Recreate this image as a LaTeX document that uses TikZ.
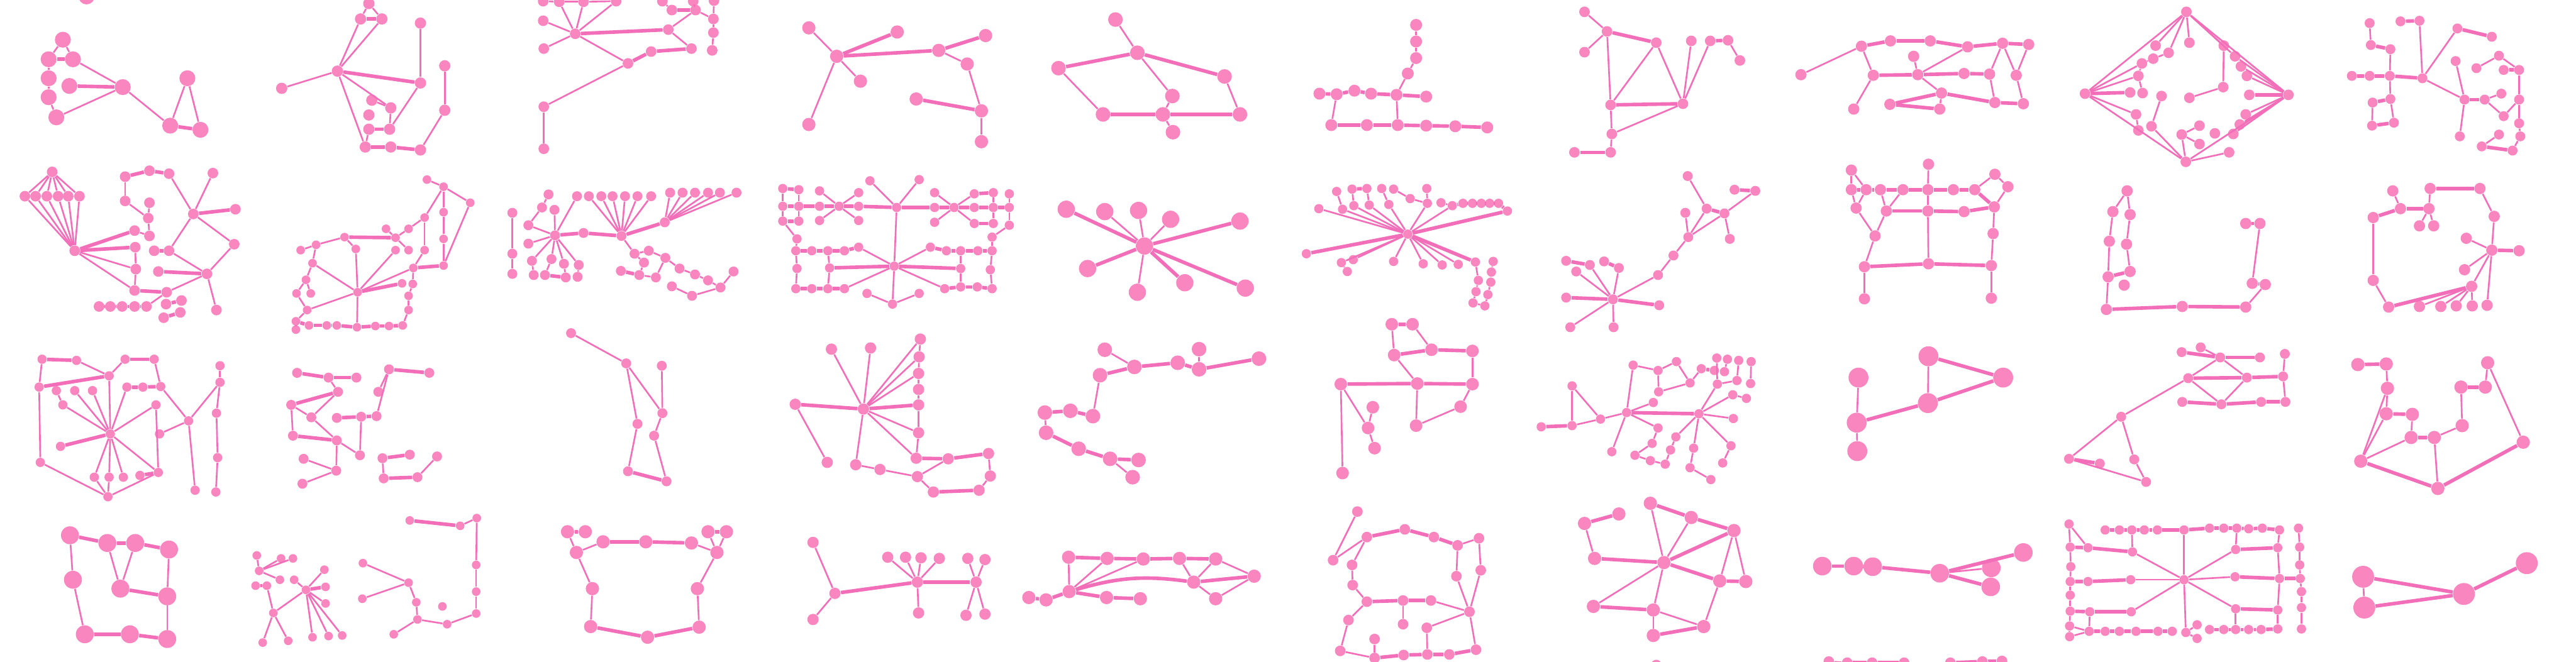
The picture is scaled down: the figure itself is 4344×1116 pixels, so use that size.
\documentclass[tikz,border=0pt]{standalone}
\definecolor{pnode}{RGB}{250,134,192}
\definecolor{pline}{RGB}{242,110,184}
\tikzset{nd/.style={circle,fill=pnode,draw=none,inner sep=0pt},
ln/.style={draw=pline,line width=0.8pt},
lt/.style={draw=pline,line width=1.7pt}}
\newcommand\graphG[5]{%
 \foreach \ni/\px/\py in {#3} {\node[nd,minimum size=1.12*#2] (#1\ni) at (\px,\py) {};}
 \foreach \na/\nb in {#4} {\draw[ln] (#1\na) -- (#1\nb);}
 \foreach \na/\nb in {#5} {\draw[lt] (#1\na) -- (#1\nb);}
}
\begin{document}
\begin{tikzpicture}[x=0.01cm,y=-0.01cm]
\fill[white] (0,0) rectangle (4344,1116);
\clip (0,0) rectangle (4344,1116);
% Row 1
\graphG{aa}{0.24cm}{1/106/67,2/82/100,3/123/100,4/82/132,5/117/145,6/82/164,7/95/198,8/207/147,9/316/132,10/287/212,11/338/219,12/146/-6}{1/2,1/3,2/4,4/6,6/7,3/8,7/8,8/10,9/10,9/11}{2/3,5/8,10/11}
\graphG{ab}{0.17cm}{1/569/120,2/475/149,3/622/6,4/608/32,5/644/32,6/709/39,7/709/140,8/750/111,9/750/186,10/627/169,11/659/182,12/622/194,13/622/218,14/657/218,15/616/248,16/659/248,17/709/253}{1/2,3/4,3/5,1/4,1/5,6/7,8/9,1/11,10/11,11/14,1/15,13/15,7/14,9/17}{4/5,1/7,13/14,15/16,16/17}
\graphG{ac}{0.16cm}{1/916/2,2/943/3,3/984/3,4/1039/2,5/1117/2,6/1169/2,7/1204/1,8/916/35,9/970/57,10/917/82,11/1127/50,12/1133/17,13/1173/17,14/1203/32,15/1203/55,16/1201/85,17/1166/82,18/1098/87,19/1059/107,20/917/180,21/917/251}{9/8,9/10,9/2,9/3,9/4,9/19,19/20,20/21,11/17,11/13,13/14,7/14,14/15,15/16,5/12,6/13,1/2,2/3,3/4}{9/11,12/13,17/18,18/19}
\graphG{ad}{0.20cm}{1/1364/47,2/1513/54,3/1411/95,4/1583/85,5/1662/60,6/1631/108,7/1451/137,8/1545/167,9/1655/187,10/1655/239,11/1364/210}{3/1,3/7,3/11,4/6,6/9,9/10}{3/2,3/4,4/5,8/9}
\graphG{ae}{0.22cm}{1/1881/33,2/1918/89,3/1785/115,4/2065/129,5/1977/162,6/1860/193,7/1961/193,8/2091/193,9/1978/223}{1/2,2/5,3/6,4/8,5/7,7/9}{2/3,2/4,6/7,7/8}
\graphG{af}{0.18cm}{1/2388/42,2/2388/70,3/2388/98,4/2374/124,5/2355/160,6/2225/158,7/2254/159,8/2284/153,9/2312/158,10/2405/163,11/2245/211,12/2305/211,13/2357/211,14/2405/212,15/2454/213,16/2508/215}{1/2,2/3,3/4,4/5,7/11,5/13}{6/7,7/8,8/9,9/5,5/10,11/12,12/13,13/14,14/15,15/16}
\graphG{ag}{0.16cm}{1/2672/20,2/2710/53,3/2672/88,4/2793/72,5/2852/69,6/2884/69,7/2914/68,8/2934/102,9/2716/177,10/2838/175,11/2718/226,12/2655/257,13/2716/257}{1/2,2/3,2/9,4/9,4/10,5/10,6/10,7/8,10/11,9/11,11/13}{2/4,6/7,9/10,12/13}
\graphG{ah}{0.17cm}{1/3037/126,2/3139/78,3/3188/69,4/3255/69,5/3318/79,6/3377/73,7/3421/75,8/3227/95,9/3159/127,10/3234/126,11/3312/124,12/3355/125,13/3400/127,14/3274/157,15/3187/176,16/3271/184,17/3364/173,18/3412/175,19/3126/184}{1/2,2/9,9/19,8/10,10/5,6/12,6/13,7/13,10/14,14/16,12/17,13/18}{2/3,3/4,4/5,5/6,6/7,9/10,10/11,11/12,14/15,15/16,14/17,17/18}
\graphG{ai}{0.16cm}{1/3687/20,2/3516/158,3/3859/160,4/3686/273,5/3635/77,6/3692/72,7/3657/89,8/3631/99,9/3612/107,10/3606/128,11/3592/156,12/3613/157,13/3645/162,14/3602/193,15/3606/220,16/3628/213,17/3750/77,18/3749/147,19/3692/165,20/3769/95,21/3779/112,22/3789/128,23/3793/160,24/3787/193,25/3777/210,26/3766/226,27/3759/257,28/3709/212,29/3679/227,30/3709/243,31/3735/225}{1/2,1/3,1/5,1/6,1/7,1/17,1/20,2/4,3/4,2/9,2/10,2/14,7/8,8/9,9/10,10/12,14/15,13/16,16/4,17/18,18/19,3/20,3/21,3/22,3/24,3/25,3/26,27/4,28/29,29/30,29/4}{2/11,3/23}
\graphG{aj}{0.15cm}{1/3996/39,2/3998/76,3/4031/83,4/4048/36,5/4080/35,6/4144/48,7/4202/62,8/3966/128,9/3996/128,10/4030/128,11/4085/132,12/4031/167,13/4001/173,14/4000/212,15/4037/207,16/4141/103,17/4156/168,18/4148/230,19/4214/94,20/4176/115,21/4222/118,22/4248/118,23/4190/168,24/4218/158,25/4248/168,26/4222/196,27/4248/208,28/4250/230,29/4214/227,30/4185/247,31/4237/254}{1/2,3/10,5/11,11/6,11/17,10/12,13/14,12/15,16/17,17/18,23/24,23/26,26/25,25/22,22/19,19/20,25/27,27/28,28/31,30/29}{2/3,8/9,9/10,10/11,4/5,6/7,12/13,14/15,17/23,21/22,31/30}
% Row 2
\graphG{ba}{0.16cm}{1/88/290,2/42/331,3/60/331,4/79/331,5/98/331,6/115/331,7/134/331,8/126/423,9/211/298,10/252/288,11/285/293,12/211/339,13/252/342,14/250/368,15/227/389,16/252/398,17/228/417,18/260/423,19/285/423,20/359/292,21/326/361,22/397/353,23/395/412,24/229/454,25/267/458,26/349/462,27/227/490,28/281/493,29/167/517,30/186/517,31/206/517,32/227/517,33/247/517,34/280/513,35/306/507,36/304/527,37/276/536,38/365/523}{1/2,1/3,1/4,1/5,1/6,1/7,2/8,3/8,4/8,5/8,6/8,7/8,8/24,8/27,9/12,12/14,13/14,14/16,15/16,17/24,24/27,11/21,20/21,21/19,21/23,23/26,19/26,26/28,26/38,28/33}{9/10,10/11,8/15,8/17,18/19,21/22,25/26,27/28,29/30,30/31,31/32,32/33,34/35,36/37}
\graphG{bb}{0.13cm}{1/720/303,2/748/315,3/793/342,4/748/358,5/748/403,6/716/367,7/689/386,8/651/386,9/667/401,10/581/400,11/533/413,12/507/422,13/600/420,14/667/422,15/689/422,16/716/422,17/527/444,18/697/452,19/748/448,20/516/472,21/500/495,22/524/495,23/678/478,24/696/479,25/603/493,26/518/523,27/689/499,28/689/523,29/499/542,30/499/556,31/521/549,32/551/549,33/568/549,34/602/552,35/633/550,36/656/550,37/679/549}{1/2,2/3,2/4,2/6,4/5,5/19,3/19,6/7,7/9,8/9,9/15,10/11,11/17,10/13,13/25,17/20,20/21,21/26,20/22,17/25,18/25,14/25,26/25,18/24,24/27,27/28,28/37,26/29,29/30,25/34,16/18,6/16,12/11}{9/10,18/19,23/25,29/31,31/32,32/33,33/34,34/35,35/36,36/37}
\graphG{bc}{0.15cm}{1/864/359,2/864/428,3/864/462,4/925/328,5/914/350,6/935/354,7/891/380,8/891/411,9/936/397,10/984/393,11/897/440,12/930/437,13/951/445,14/976/447,15/900/464,16/919/464,17/954/468,18/974/467,19/973/331,20/993/331,21/1014/331,22/1033/331,23/1054/331,24/1075/331,25/1098/331,26/1130/325,27/1151/325,28/1172/325,29/1194/325,30/1214/325,31/1242/325,32/1048/398,33/1121/375,34/1070/428,35/1094/423,36/1086/443,37/1047/457,38/1078/464,39/1106/468,40/1122/435,41/1146/453,42/1172/463,43/1194/473,44/1133/483,45/1167/499,46/1215/485,47/1237/458}{1/2,2/3,4/5,5/7,7/9,6/9,9/8,9/11,9/12,9/13,9/14,11/15,12/16,13/17,14/18,9/19,32/20,32/21,32/22,32/23,32/24,32/25,33/26,33/27,33/28,33/29,33/30,33/31,32/34,34/36,34/35,35/40,40/41,41/42,42/43,43/46,46/47,44/45,45/46,36/38,38/39,39/40}{9/10,10/32,32/33,37/38,16/17}
\graphG{bd}{0.14cm}{1/1320/318,2/1347/320,3/1382/322,4/1448/325,5/1467/305,6/1550/303,7/1320/348,8/1347/348,9/1382/348,10/1415/348,11/1448/348,12/1512/350,13/1576/350,14/1609/350,15/1643/350,16/1675/350,17/1702/350,18/1320/373,19/1347/373,20/1382/372,21/1448/372,22/1576/325,23/1643/327,24/1675/325,25/1702/327,26/1576/375,27/1643/377,28/1675/377,29/1702/380,30/1344/403,31/1673/400,32/1342/423,33/1369/423,34/1396/423,35/1424/423,36/1448/417,37/1569/417,38/1596/423,39/1620/423,40/1649/423,41/1673/423,42/1344/453,43/1399/452,44/1508/449,45/1620/453,46/1670/455,47/1342/487,48/1369/487,49/1396/487,50/1424/487,51/1593/487,52/1620/484,53/1648/484,54/1673/487,55/1462/495,56/1550/495,57/1505/513}{1/7,7/18,2/8,8/19,3/10,10/21,20/10,10/4,22/14,14/27,26/14,14/23,25/17,17/29,24/16,16/28,12/5,12/6,12/44,44/57,57/55,57/56,18/30,30/32,32/42,42/47,29/31,31/41,41/46,46/54,34/43,43/49,39/45,45/52,44/36,44/37,44/50,44/51}{1/2,7/8,8/9,9/10,10/11,11/12,12/13,13/14,14/15,15/16,16/17,18/19,23/24,27/28,32/33,33/34,34/35,35/36,37/38,38/39,39/40,40/41,43/44,44/45,47/48,48/49,49/50,51/52,52/53,53/54}
\graphG{be}{0.26cm}{1/1930/415,2/1798/353,3/1863/357,4/1920/355,5/1974/370,6/2091/373,7/1834/453,8/1918/493,9/1998/477,10/2100/486}{1/3,1/4,1/5,1/8}{1/2,1/6,1/7,1/9,1/10}
\graphG{bf}{0.14cm}{1/2374/395,2/2224/352,3/2254/323,4/2264/353,5/2280/319,6/2305/318,7/2283/347,8/2309/346,9/2330/318,10/2342/345,11/2350/319,12/2378/335,13/2406/318,14/2407/343,15/2430/342,16/2449/347,17/2467/343,18/2483/343,19/2498/343,20/2512/343,21/2527/343,22/2542/356,23/2203/428,24/2262/443,25/2282/438,26/2272/458,27/2350/441,28/2400/445,29/2432/447,30/2459/446,31/2488/442,32/2518/441,33/2515/459,34/2493/473,35/2514/476,36/2489/492,37/2509/497,38/2484/511,39/2504/516}{1/2,1/4,1/7,1/8,1/10,1/14,1/16,1/24,1/25,1/27,1/28,1/29,1/30,3/4,5/7,6/8,9/10,11/12,12/14,13/14,15/16,24/26,31/34,34/36,36/38,32/33,33/35,35/37,37/39,38/39}{1/22,1/23,1/31,5/6,16/17,17/18,18/19,19/20,20/21,21/22}
\graphG{bg}{0.15cm}{1/2846/297,2/2878/352,3/2908/360,4/2925/320,5/2960/322,6/2842/359,7/2917/403,8/2847/400,9/2822/431,10/2796/464,11/2720/505,12/2641/440,13/2681/447,14/2705/441,15/2730/452,16/2658/458,17/2641/502,18/2798/515,19/2648/552,20/2721/552}{1/2,2/8,6/8,3/8,3/7,3/5,8/9,9/10,10/11,11/16,11/13,11/15,11/19,11/20}{2/3,4/5,12/13,14/15,11/17,11/18}
\graphG{bh}{0.17cm}{1/3122/287,2/3252/277,3/3364/294,4/3386/315,5/3122/320,6/3147/320,7/3171/320,8/3209/320,9/3251/320,10/3294/320,11/3330/320,12/3130/351,13/3181/356,14/3251/356,15/3312/357,16/3363/349,17/3162/398,18/3361/394,19/3144/450,20/3252/445,21/3358/448,22/3144/504,23/3358/503}{1/5,1/6,2/9,3/11,3/4,4/16,5/12,6/12,7/13,8/13,9/14,14/20,12/17,13/17,17/19,16/18,18/21,19/22,21/23}{5/6,6/7,7/8,8/9,9/10,10/11,11/16,13/14,14/15,15/16,19/20,20/21}
\graphG{bi}{0.17cm}{1/3587/322,2/3563/357,3/3592/362,4/3557/407,5/3586/412,6/3555/467,7/3592/458,8/3582/481,9/3552/522,10/3680/517,11/3787/518,12/3787/377,13/3811/377,14/3798/478,15/3820/480}{1/2,1/3,2/4,4/6,6/9,3/5,5/7,11/15,13/14}{6/7,9/10,10/11,12/13,14/15}
\graphG{bj}{0.17cm}{1/4035/322,2/4098/318,3/4182/318,4/4048/352,5/4096/352,6/4002/367,7/4080/381,8/4104/381,9/4206/365,10/4159/402,11/4202/422,12/4248/423,13/4156/455,14/4002/473,15/4168/483,16/4028/518,17/4080/517,18/4116/517,19/4142/516,20/4169/516,21/4194/515}{1/4,2/5,5/7,5/8,3/9,9/11,10/11,11/13,11/15,11/21,6/14,14/16,15/17,15/18,15/19,15/20}{6/4,4/5,2/3,11/12,16/15}
% Row 3
\graphG{ca}{0.14cm}{1/71/606,2/129/608,3/211/606,4/260/606,5/184/634,6/66/653,7/95/659,8/126/659,9/156/659,10/214/653,11/241/653,12/271/652,13/106/683,14/263/683,15/186/732,16/269/732,17/318/710,18/102/753,19/68/780,20/371/617,21/371/645,22/365/697,23/367/772,24/159/805,25/184/805,26/208/805,27/236/802,28/267/797,29/182/838,30/329/827,31/364/830}{2/5,3/5,4/12,1/6,6/19,19/29,5/15,7/13,13/15,8/15,9/15,10/15,14/15,15/24,15/25,15/26,15/28,12/17,16/17,17/21,20/21,21/22,22/23,23/31,17/30,28/29,24/29,25/29,14/28}{1/2,3/4,5/6,10/11,11/12,15/18,27/28}
\graphG{cb}{0.15cm}{1/501/629,2/554/637,3/601/637,4/656/623,5/724/629,6/570/661,7/638/661,8/491/683,9/525/704,10/568/705,11/609/703,12/635/702,13/494/735,14/568/743,15/607/768,16/512/774,17/567/794,18/510/816,19/645/773,20/691/767,21/737/770,22/647/807,23/704/805}{2/6,6/9,8/9,8/13,9/14,14/15,14/17,16/17,17/18,4/7,4/12,11/15,19/22,23/21}{1/2,2/3,4/5,6/8,13/14,10/11,11/12,19/20,22/23}
\graphG{cc}{0.15cm}{1/963/562,2/1056/613,3/1116/617,4/1117/697,5/1075/715,6/1103/735,7/1059/795,8/1124/812}{1/2,2/4,3/4,2/5,5/7,4/6,6/8}{7/8}
\graphG{cd}{0.17cm}{1/1552/572,2/1550/602,3/1549/630,4/1549/657,5/1549/683,6/1549/730,7/1402/589,8/1468/587,9/1341/682,10/1456/690,11/1395/780,12/1443/784,13/1484/792,14/1547/804,15/1545/773,16/1599/774,17/1667/765,18/1670/803,19/1574/830,20/1651/827}{1/2,2/3,3/4,4/5,5/6,10/7,10/8,10/1,10/2,10/3,10/6,10/12,10/15,9/11,12/13,13/14,6/15,16/14,17/18,18/20,14/19}{10/5,10/9,15/16,16/17,19/20}
\graphG{ce}{0.22cm}{1/1863/590,2/1913/619,3/1855/633,4/1986/612,5/2022/589,6/2022/623,7/2123/605,8/1762/696,9/1805/693,10/1843/702,11/1764/730,12/1819/757,13/1872/774,14/1920/776,15/1910/805}{1/2,5/6,3/10,8/11,13/15}{2/3,2/4,4/6,6/7,10/9,9/8,11/12,12/13,13/14}
\graphG{cf}{0.19cm}{1/2347/547,2/2382/547,3/2351/599,4/2414/590,5/2483/592,6/2261/648,7/2390/647,8/2483/648,9/2315/687,10/2307/722,11/2318/756,12/2463/686,13/2388/718,14/2264/798}{1/3,2/4,5/8,3/7,7/13,8/12,12/13,6/10,9/10,10/11,6/14}{1/2,3/4,4/5,6/7,7/8}
\graphG{cg}{0.14cm}{1/2651/651,2/2599/720,3/2651/718,4/2699/707,5/2743/696,6/2754/616,7/2788/679,8/2718/762,9/2796/625,10/2827/610,11/2850/646,12/2797/661,13/2869/622,14/2891/625,15/2895/604,16/2913/606,17/2932/608,18/2953/610,19/2908/627,20/2896/648,21/2929/642,22/2952/647,23/2922/666,24/2945/672,25/2865/698,26/2923/706,27/2796/722,28/2826/737,29/2786/748,30/2817/759,31/2757/768,32/2783/777,33/2808/783,34/2856/756,35/2850/789,36/2885/809,37/2919/752,38/2905/781}{1/3,1/4,3/4,4/5,5/6,5/7,5/8,5/27,27/29,6/9,9/10,9/12,12/11,10/11,11/13,25/20,20/21,15/20,16/19,17/21,18/22,25/23,23/24,25/26,25/28,28/30,30/33,25/34,34/35,35/36,25/37,37/38,29/31,31/32,32/33}{2/3,5/25,13/14}
\graphG{ch}{0.30cm}{1/3134/637,2/3252/601,3/3378/637,4/3251/680,5/3131/713,6/3132/761}{1/5,5/6,2/4}{5/4,2/3,4/3}
\graphG{ci}{0.15cm}{1/3711/586,2/3679/594,3/3744/603,4/3811/603,5/3853/597,6/3690/638,7/3789/637,8/3850/635,9/3680/678,10/3746/682,11/3813/678,12/3854/678,13/3577/703,14/3489/774,15/3541/782,16/3599/775,17/3619/813}{1/3,3/6,3/7,5/8,8/12,6/10,7/10,6/13,13/14,13/16,16/17,14/17}{2/3,3/4,6/7,9/10,10/11,11/12,14/15,7/8}
\graphG{cj}{0.20cm}{1/3976/615,2/4024/614,3/4195/612,4/4026/655,5/4150/653,6/4191/653,7/4024/698,8/4068/699,9/4152/718,10/4066/738,11/4105/738,12/4255/746,13/3981/778,14/4111/824}{2/4,4/7,4/13,7/13,8/10,10/13,11/9,9/5,6/3,3/12,11/14}{1/2,7/8,5/6,10/11,13/14,12/14}
% Row 4
\graphG{da}{0.27cm}{1/118/903,2/181/916,3/228/916,4/285/927,5/123/978,6/203/993,7/282/1006,8/143/1070,9/219/1070,10/282/1078}{1/5,5/8,2/6,3/6,4/7,7/10}{1/2,2/3,3/4,6/7,8/9,9/10}
\graphG{db}{0.13cm}{1/433/937,2/474/942,3/494/942,4/437/963,5/472/978,6/431/988,7/450/988,8/496/978,9/547/961,10/549/990,11/549/1018,12/516/995,13/461/1034,14/443/1084,15/486/1081,16/527/1075,17/554/1073,18/577/1072,19/691/878,20/776/887,21/804/874,22/612/950,23/689/983,24/611/1010,25/803/953,26/803/998,27/803/1035,28/702/1016,29/746/1023,30/704/1045,31/754/1053,32/664/1070}{1/4,2/4,3/4,4/5,8/12,9/12,12/11,12/13,7/13,13/14,13/15,12/16,12/17,12/18,20/21,21/25,25/26,26/27,27/31,31/30,22/23,23/24,23/28,28/30,30/32}{6/7,12/10,19/20}
\graphG{dc}{0.20cm}{1/957/897,2/987/897,3/1194/897,4/1225/897,5/1017/914,6/1089/914,7/1166/916,8/972/932,9/1209/932,10/999/993,11/1176/993,12/996/1057,13/1179/1058,14/1092/1075}{1/8,8/5,7/9,3/9,4/9,8/10,10/12,9/11,11/13}{1/2,3/4,5/6,6/7,12/14,14/13}
\graphG{dd}{0.17cm}{1/1371/915,2/1408/1001,3/1371/1045,4/1547/982,5/1497/940,6/1527/940,7/1553/941,8/1584/942,9/1646/982,10/1632/942,11/1661/944,12/1549/1034,13/1629/1038,14/1661/1036}{1/2,2/3,4/5,4/6,4/7,4/8,4/12,9/10,9/11,9/13,9/14}{2/4,4/9}
\graphG{de}{0.20cm}{1/1802/940,2/1867/942,3/1928/943,4/1989/942,5/2050/943,6/2115/972,7/2013/982,8/1803/998,9/1735/1008,10/1764/1012,11/1866/1008,12/1923/1010,13/2050/1010}{1/8,8/2,8/3,4/7,5/7,5/6,7/13,13/6}{1/2,2/3,3/4,4/5,7/6,8/10,10/9,8/11,11/12}
\draw[lt] (de8) to[bend left=12] (de7);
\graphG{df}{0.16cm}{1/2289/863,2/2248/945,3/2305/906,4/2369/893,5/2418/906,6/2458/920,7/2494/908,8/2280/953,9/2281/987,10/2456/972,11/2497/962,12/2305/1015,13/2366/1013,14/2413/1013,15/2478/1032,16/2366/1053,17/2406/1059,18/2274/1046,19/2260/1098,20/2318/1078,21/2318/1110,22/2367/1105,23/2407/1104,24/2444/1104,25/2489/1096}{1/2,2/3,3/8,8/9,9/12,6/10,10/15,7/11,11/15,14/15,13/16,15/17,17/23,15/25,12/18,18/19,19/21,20/21,6/7}{3/4,4/5,5/6,12/13,13/14,21/22,22/23,23/24,24/25}
\graphG{dg}{0.20cm}{1/2730/867,2/2672/883,3/2783/849,4/2852/873,5/2924/895,6/2689/942,7/2806/949,8/2900/980,9/2944/981,10/2687/1023,11/2788/1029,12/2873/1057,13/2788/1072}{2/6,3/7,4/7,5/8,5/9,7/10,7/11,11/12,8/12,11/13}{1/2,6/7,3/4,4/5,5/7,7/8,8/9,10/11,13/12}
\graphG{dh}{0.28cm}{1/3073/955,2/3126/955,3/3158/956,4/3271/967,5/3412/932,6/3358/958,7/3357/990}{4/6}{1/2,2/3,3/4,4/5,4/7}
\graphG{di}{0.14cm}{1/3683/978,2/3489/884,3/3491/923,4/3492/956,5/3491/981,6/3491/1004,7/3491/1031,8/3490/1056,9/3490/1074,10/3521/924,11/3596/931,12/3550/894,13/3574/894,14/3595/894,15/3616/894,16/3638/894,17/3683/894,18/3726/891,19/3750/891,20/3772/891,21/3792/892,22/3815/891,23/3844/894,24/3876/891,25/3878/923,26/3878/953,27/3879/976,28/3881/998,29/3881/1025,30/3881/1061,31/3770/927,32/3841/924,33/3521/981,34/3593/978,35/3769/973,36/3844/976,37/3524/1032,38/3594/1032,39/3770/1027,40/3841/1029,41/3523/1065,42/3550/1065,43/3574/1065,44/3602/1065,45/3639/1065,46/3663/1065,47/3686/1067,48/3705/1054,49/3705/1077,50/3726/1062,51/3750/1062,52/3770/1062,53/3792/1062,54/3813/1062,55/3841/1061}{2/3,3/4,4/5,5/6,6/7,7/8,8/9,2/10,14/11,1/11,1/17,1/47,1/31,31/20,1/34,1/35,1/38,1/39,37/41,39/52,23/32,32/36,36/40,40/55,24/25,25/26,26/27,27/28,28/29,29/30,8/41,9/41,47/48,47/49}{3/10,10/11,12/13,13/14,14/15,15/16,16/17,17/18,18/19,19/20,20/21,21/22,22/23,31/32,34/33,33/5,35/36,36/27,38/37,37/7,39/40,41/42,42/43,43/44,44/45,45/46,50/51,51/52,52/53,53/54,54/55}
\graphG{dj}{0.33cm}{1/3985/973,2/3987/1025,3/4155/1002,4/4261/950}{1/2}{1/3,2/3,3/4}
% partial row at the bottom edge
\graphG{ea}{0.16cm}{1/3084/1116,2/3115/1118,3/3157/1118,4/3211/1118,5/3289/1118,6/3343/1116,7/3376/1115}{1/2}{2/3,3/4,5/6,6/7}
\node[nd,minimum size=0.18cm] (eb1) at (2793,1122) {};
\end{tikzpicture}
\end{document}
